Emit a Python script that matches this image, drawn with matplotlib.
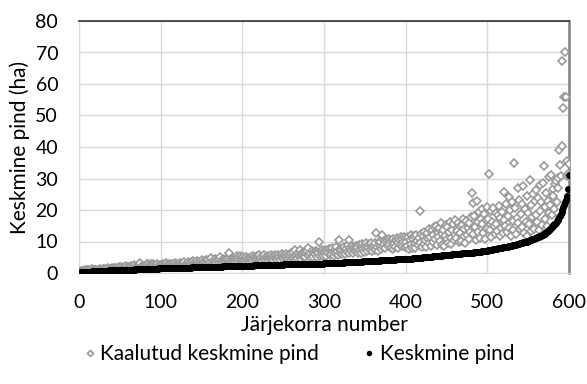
import matplotlib
matplotlib.use("Agg")
import matplotlib.pyplot as plt
import numpy as np

# Keskmine pind (ha), sorted ascending - one value per järjekorra number 1..600
mean_area = [
    0.1, 0.2, 0.2, 0.3, 0.3, 0.3, 0.3, 0.3, 0.4, 0.4, 0.4, 0.4, 0.4, 0.4, 0.4, 0.5, 0.5, 0.5, 0.5, 0.5,
    0.5, 0.5, 0.6, 0.6, 0.6, 0.6, 0.6, 0.6, 0.6, 0.7, 0.7, 0.7, 0.7, 0.7, 0.7, 0.7, 0.8, 0.8, 0.8, 0.8,
    0.8, 0.8, 0.8, 0.8, 0.9, 0.9, 0.9, 0.9, 0.9, 0.9, 0.9, 1.0, 1.0, 1.0, 1.0, 1.0, 1.0, 1.0, 1.0, 1.1,
    1.1, 1.1, 1.1, 1.1, 1.1, 1.1, 1.1, 1.1, 1.2, 1.2, 1.2, 1.2, 1.2, 1.2, 1.2, 1.2, 1.2, 1.3, 1.3, 1.3,
    1.3, 1.3, 1.3, 1.3, 1.3, 1.3, 1.3, 1.4, 1.4, 1.4, 1.4, 1.4, 1.4, 1.4, 1.4, 1.4, 1.4, 1.5, 1.5, 1.5,
    1.5, 1.5, 1.5, 1.5, 1.5, 1.5, 1.5, 1.5, 1.5, 1.5, 1.5, 1.5, 1.6, 1.6, 1.6, 1.6, 1.6, 1.6, 1.6, 1.6,
    1.6, 1.6, 1.6, 1.6, 1.6, 1.7, 1.7, 1.7, 1.7, 1.7, 1.7, 1.7, 1.7, 1.7, 1.7, 1.7, 1.7, 1.8, 1.8, 1.8,
    1.8, 1.8, 1.8, 1.8, 1.8, 1.8, 1.8, 1.8, 1.8, 1.8, 1.9, 1.9, 1.9, 1.9, 1.9, 1.9, 1.9, 1.9, 1.9, 1.9,
    1.9, 1.9, 1.9, 2.0, 2.0, 2.0, 2.0, 2.0, 2.0, 2.0, 2.0, 2.0, 2.0, 2.0, 2.0, 2.1, 2.1, 2.1, 2.1, 2.1,
    2.1, 2.1, 2.1, 2.1, 2.1, 2.1, 2.1, 2.1, 2.2, 2.2, 2.2, 2.2, 2.2, 2.2, 2.2, 2.2, 2.2, 2.2, 2.2, 2.2,
    2.2, 2.3, 2.3, 2.3, 2.3, 2.3, 2.3, 2.3, 2.3, 2.3, 2.3, 2.3, 2.3, 2.4, 2.4, 2.4, 2.4, 2.4, 2.4, 2.4,
    2.4, 2.4, 2.4, 2.4, 2.4, 2.4, 2.5, 2.5, 2.5, 2.5, 2.5, 2.5, 2.5, 2.5, 2.5, 2.5, 2.5, 2.5, 2.6, 2.6,
    2.6, 2.6, 2.6, 2.6, 2.6, 2.6, 2.6, 2.6, 2.6, 2.6, 2.7, 2.7, 2.7, 2.7, 2.7, 2.7, 2.7, 2.7, 2.7, 2.7,
    2.7, 2.7, 2.7, 2.8, 2.8, 2.8, 2.8, 2.8, 2.8, 2.8, 2.8, 2.8, 2.8, 2.8, 2.8, 2.9, 2.9, 2.9, 2.9, 2.9,
    2.9, 2.9, 2.9, 2.9, 2.9, 2.9, 2.9, 3.0, 3.0, 3.0, 3.0, 3.0, 3.0, 3.0, 3.0, 3.0, 3.0, 3.0, 3.0, 3.1,
    3.1, 3.1, 3.1, 3.1, 3.1, 3.1, 3.1, 3.1, 3.2, 3.2, 3.2, 3.2, 3.2, 3.2, 3.2, 3.2, 3.3, 3.3, 3.3, 3.3,
    3.3, 3.3, 3.3, 3.3, 3.4, 3.4, 3.4, 3.4, 3.4, 3.4, 3.4, 3.4, 3.5, 3.5, 3.5, 3.5, 3.5, 3.5, 3.5, 3.5,
    3.6, 3.6, 3.6, 3.6, 3.6, 3.6, 3.6, 3.7, 3.7, 3.7, 3.7, 3.7, 3.7, 3.7, 3.8, 3.8, 3.8, 3.8, 3.8, 3.8,
    3.8, 3.9, 3.9, 3.9, 3.9, 3.9, 3.9, 3.9, 4.0, 4.0, 4.0, 4.0, 4.0, 4.0, 4.1, 4.1, 4.1, 4.1, 4.1, 4.1,
    4.1, 4.2, 4.2, 4.2, 4.2, 4.2, 4.2, 4.3, 4.3, 4.3, 4.3, 4.3, 4.3, 4.4, 4.4, 4.4, 4.4, 4.4, 4.4, 4.5,
    4.5, 4.5, 4.5, 4.5, 4.6, 4.6, 4.6, 4.6, 4.7, 4.7, 4.7, 4.7, 4.8, 4.8, 4.8, 4.8, 4.9, 4.9, 4.9, 4.9,
    5.0, 5.0, 5.0, 5.0, 5.1, 5.1, 5.1, 5.1, 5.2, 5.2, 5.2, 5.2, 5.3, 5.3, 5.3, 5.3, 5.4, 5.4, 5.4, 5.4,
    5.5, 5.5, 5.5, 5.5, 5.6, 5.6, 5.6, 5.6, 5.7, 5.7, 5.7, 5.7, 5.8, 5.8, 5.8, 5.8, 5.9, 5.9, 5.9, 5.9,
    6.0, 6.0, 6.0, 6.0, 6.1, 6.1, 6.1, 6.1, 6.2, 6.2, 6.2, 6.2, 6.3, 6.3, 6.3, 6.3, 6.4, 6.4, 6.4, 6.4,
    6.5, 6.5, 6.5, 6.6, 6.6, 6.6, 6.7, 6.7, 6.7, 6.8, 6.8, 6.8, 6.9, 6.9, 6.9, 7.0, 7.0, 7.0, 7.1, 7.1,
    7.2, 7.2, 7.3, 7.3, 7.4, 7.4, 7.5, 7.5, 7.6, 7.6, 7.7, 7.7, 7.8, 7.8, 7.9, 7.9, 8.0, 8.0, 8.1, 8.1,
    8.2, 8.2, 8.3, 8.3, 8.4, 8.5, 8.5, 8.6, 8.6, 8.7, 8.8, 8.8, 8.9, 9.0, 9.0, 9.1, 9.2, 9.2, 9.3, 9.4,
    9.4, 9.5, 9.6, 9.7, 9.7, 9.8, 9.9, 10.0, 10.1, 10.2, 10.3, 10.4, 10.5, 10.6, 10.7, 10.8, 10.9, 11.0, 11.1, 11.2,
    11.3, 11.4, 11.5, 11.7, 11.8, 11.9, 12.1, 12.2, 12.4, 12.5, 12.7, 12.9, 13.1, 13.3, 13.5, 13.7, 13.9, 14.2, 14.5, 14.8,
    15.1, 15.4, 15.7, 16.0, 16.4, 16.8, 17.2, 17.7, 18.2, 18.8, 19.4, 20.1, 20.8, 21.6, 22.4, 23.3, 24.0, 24.6, 26.6, 31.2,
]

# Kaalutud keskmine pind (ha), same order
weighted_area = [
    0.3, 0.5, 0.4, 0.7, 0.5, 0.6, 0.9, 0.5, 0.5, 0.8, 1.0, 0.6, 0.6, 0.9, 0.7, 1.2, 0.7, 0.8, 1.0, 0.8,
    0.8, 0.7, 1.1, 0.9, 0.8, 1.3, 1.0, 0.9, 1.4, 1.0, 1.2, 0.8, 1.3, 1.1, 1.0, 1.5, 1.1, 1.3, 1.2, 1.6,
    1.2, 1.1, 1.5, 1.7, 1.3, 1.2, 1.6, 1.4, 1.9, 1.3, 1.6, 1.8, 1.4, 1.5, 2.0, 1.5, 1.7, 2.1, 1.6, 1.8,
    1.6, 2.0, 1.5, 2.2, 1.7, 1.9, 2.5, 1.6, 2.0, 1.8, 2.3, 1.7, 1.9, 2.8, 3.1, 1.8, 2.3, 2.0, 1.7, 2.1,
    2.2, 1.9, 2.7, 2.1, 3.0, 2.3, 1.8, 2.8, 2.4, 2.9, 2.1, 2.5, 2.0, 1.8, 2.4, 3.0, 2.2, 2.0, 2.6, 2.3,
    2.5, 2.1, 3.0, 2.4, 2.0, 2.6, 3.2, 2.2, 2.7, 2.3, 2.0, 2.9, 2.5, 2.8, 2.2, 2.6, 2.1, 3.1, 2.4, 2.7,
    2.6, 3.0, 2.2, 3.3, 2.7, 2.4, 3.1, 2.8, 3.5, 2.3, 2.9, 2.6, 3.4, 2.2, 3.0, 2.7, 3.6, 2.5, 3.8, 2.8,
    3.0, 2.6, 3.4, 2.8, 3.9, 3.1, 2.5, 3.6, 2.9, 3.3, 4.2, 2.7, 3.7, 3.0, 4.0, 3.2, 2.8, 4.1, 3.1, 3.5,
    3.4, 4.7, 3.0, 3.9, 2.9, 4.3, 3.6, 3.2, 4.1, 3.7, 3.0, 4.5, 5.0, 3.5, 3.1, 4.3, 3.3, 4.0, 3.6, 4.6,
    4.0, 3.4, 4.6, 6.5, 3.6, 4.3, 3.3, 4.9, 3.9, 4.5, 3.5, 4.4, 5.3, 3.7, 4.8, 4.1, 5.5, 3.8, 4.2, 5.0,
    5.2, 3.9, 4.8, 3.6, 5.1, 4.0, 4.9, 4.4, 3.5, 5.2, 4.6, 3.8, 5.4, 4.7, 3.9, 5.0, 4.3, 5.3, 4.8, 4.1,
    5.7, 4.2, 5.1, 3.8, 5.4, 4.5, 5.6, 4.0, 5.2, 4.7, 3.9, 5.5, 4.9, 4.3, 5.8, 4.6, 5.3, 4.1, 5.0, 5.6,
    4.6, 5.4, 4.2, 5.8, 5.0, 4.0, 5.6, 4.8, 5.9, 4.3, 5.7, 5.1, 4.5, 6.0, 5.3, 4.4, 5.8, 5.2, 4.1, 6.2,
    4.9, 6.8, 5.2, 4.4, 7.3, 5.6, 4.7, 6.1, 5.3, 7.2, 5.0, 4.6, 6.4, 5.5, 4.8, 6.6, 5.1, 6.2, 7.0, 5.8,
    7.8, 5.4, 6.5, 4.9, 6.9, 5.7, 5.2, 6.7, 6.0, 7.1, 5.0, 6.8, 6.3, 9.7, 5.5, 6.9, 5.9, 7.4, 5.3, 7.1,
    6.2, 7.3, 5.4, 7.0, 6.5, 7.7, 5.6, 7.2, 6.1, 7.8, 6.8, 5.5, 7.4, 6.4, 8.1, 6.7, 5.8, 10.5, 7.6, 6.3,
    7.2, 6.0, 7.9, 6.6, 8.3, 5.9, 7.5, 6.8, 8.9, 10.5, 6.4, 8.0, 7.1, 8.5, 6.2, 7.7, 8.2, 6.9, 8.7, 7.4,
    8.4, 6.5, 8.8, 7.2, 6.3, 8.5, 9.1, 7.6, 6.7, 8.9, 7.9, 9.6, 7.0, 8.2, 9.3, 7.4, 8.6, 9.5, 6.9, 8.1,
    9.0, 7.3, 9.6, 12.8, 8.2, 7.0, 10.0, 8.7, 9.7, 7.5, 12.0, 8.4, 10.2, 9.1, 7.8, 9.9, 10.4, 8.5, 9.3, 10.7,
    10.3, 8.0, 10.5, 7.6, 10.9, 9.2, 8.4, 10.6, 11.1, 9.5, 7.9, 10.8, 9.0, 11.3, 8.6, 10.9, 9.7, 11.5, 8.3, 11.2,
    10.0, 8.6, 11.4, 7.5, 10.5, 12.0, 9.1, 8.0, 10.8, 11.6, 9.4, 7.8, 12.2, 10.1, 8.8, 11.0, 19.8, 9.6, 12.5, 8.3,
    11.8, 9.2, 13.0, 10.4, 8.1, 12.6, 10.9, 14.0, 9.5, 11.3, 8.6, 13.5, 12.0, 9.9, 14.6, 10.7, 15.0, 8.9, 12.8, 11.5,
    14.2, 10.3, 15.8, 9.0, 12.4, 13.7, 8.7, 11.6, 15.2, 10.8, 14.5, 9.6, 12.9, 16.3, 11.1, 9.3, 13.8, 15.6, 10.5, 12.2,
    16.8, 11.0, 13.4, 16.0, 9.8, 14.8, 12.6, 10.2, 15.3, 17.2, 11.7, 13.9, 9.5, 16.5, 12.1, 14.4, 10.8, 15.9, 13.1, 17.9,
    25.3, 12.5, 22.3, 18.2, 14.7, 10.4, 22.7, 16.1, 13.0, 19.5, 11.2, 17.0, 15.4, 20.3, 12.8, 18.6, 10.9, 16.7, 21.0, 14.1,
    17.3, 31.4, 13.6, 19.8, 11.5, 16.2, 20.5, 14.8, 12.4, 19.0, 15.7, 13.2, 18.4, 21.3, 11.9, 17.6, 14.3, 19.4, 12.7, 16.9,
    25.8, 15.0, 21.8, 12.9, 18.1, 24.0, 14.2, 19.9, 11.8, 22.6, 16.6, 13.5, 35.0, 20.7, 12.3, 17.4, 26.9, 15.8, 23.2, 13.9,
    18.8, 22.0, 14.6, 27.5, 12.7, 20.4, 16.3, 24.6, 11.9, 19.2, 15.5, 29.5, 13.3, 21.5, 17.8, 25.1, 14.0, 22.8, 18.3, 26.3,
    16.1, 23.7, 13.6, 27.9, 19.6, 22.4, 15.2, 28.6, 34.0, 20.9, 17.1, 25.4, 14.8, 23.0, 19.0, 30.4, 21.7, 31.0, 18.5, 26.8,
    24.3, 20.2, 28.1, 29.3, 22.6, 27.0, 30.1, 39.0, 34.3, 30.8, 67.3, 40.4, 52.4, 56.0, 70.3, 55.8, 35.5, 30.7, 31.5, 34.5,
]

x_ticks = [0, 100, 200, 300, 400, 500, 600]
y_ticks = [0, 10, 20, 30, 40, 50, 60, 70, 80]

GRAY = "#9a9a9a"
GRID = "#d9d9d9"

plt.rcParams["font.family"] = ["Lato", "DejaVu Sans"]

order = np.arange(1, len(mean_area) + 1)

fig = plt.figure(figsize=(5.87, 3.84), dpi=100)
ax = fig.add_axes([79 / 587, 1 - 273 / 384, 490 / 587, 252 / 384])

ax.plot(order, weighted_area, linestyle="none", marker="D", ms=3.8,
        mfc="white", mec=GRAY, mew=1.2, label="Kaalutud keskmine pind", zorder=3)
ax.plot(order, mean_area, linestyle="none", marker="o", ms=5.0,
        color="black", mew=0, label="Keskmine pind", zorder=4)

ax.set_xlim(0, 600)
ax.set_ylim(0, 80)
ax.set_xticks(x_ticks)
ax.set_yticks(y_ticks)
ax.grid(True, color=GRID, lw=1.0)
ax.set_axisbelow(True)
ax.tick_params(length=0, labelsize=14, colors="black", pad=15)

# Excel-like plot area border
ax.spines["top"].set_color("#404040")
ax.spines["top"].set_linewidth(1.3)
ax.spines["right"].set_color("#808080")
ax.spines["right"].set_linewidth(1.8)
ax.spines["left"].set_color(GRID)
ax.spines["bottom"].set_color(GRID)

ax.set_xlabel("Järjekorra number", fontsize=15)
ax.set_ylabel("Keskmine pind (ha)", fontsize=15)
ax.xaxis.set_label_coords(0.5, -0.165)
ax.yaxis.set_label_coords(-0.1, 0.5)

fig.legend(loc="center", bbox_to_anchor=(300 / 587, 1 - 354 / 384), ncol=2,
           frameon=False, fontsize=15, markerscale=0.8, handlelength=0.4,
           handletextpad=0.3, columnspacing=2.2)

fig.savefig("out.png", dpi=100)
